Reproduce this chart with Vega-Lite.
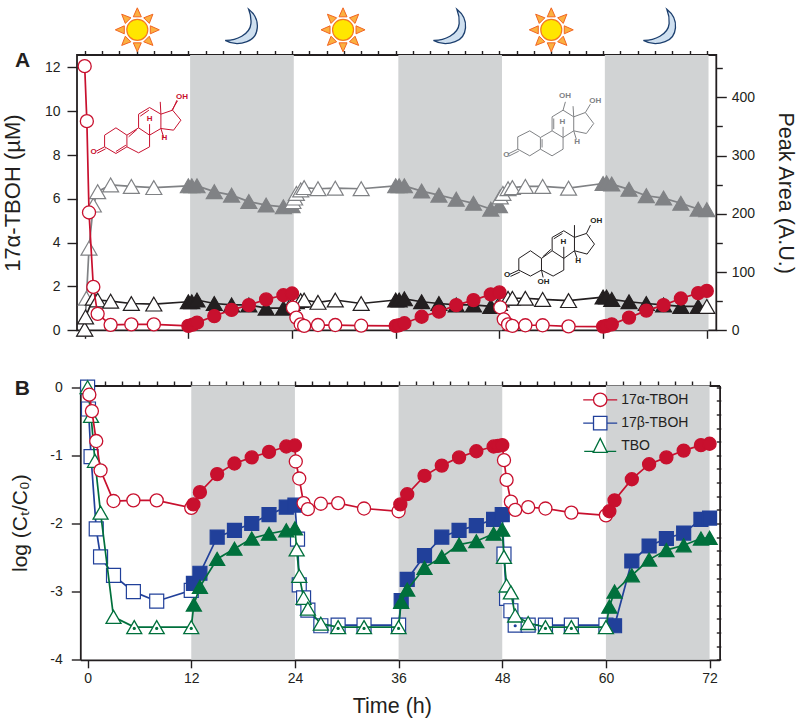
{
"$schema":"https://vega.github.io/schema/vega-lite/v6.json",
"padding":{"left":1,"top":4,"right":0,"bottom":0},
"bounds":"full","spacing":37.5,
"resolve":{"scale":{"shape":"independent","stroke":"independent","color":"independent","fill":"independent"}},
"config":{"font":"Liberation Sans","view":{"stroke":"#231f20","strokeWidth":1.8},
 "axis":{"grid":false,"domain":false,"tickColor":"#231f20","tickWidth":1.4,"labelColor":"#231f20","labelFontSize":14,"titleColor":"#231f20","titleFontSize":20,"titleFontWeight":"normal"}},
"datasets":{
"darkA":[{"t":12.2,"t2":24.2},{"t":36.3,"t2":48.3},{"t":60.2,"t2":72.2}],
"darkB":[{"t":12,"t2":24},{"t":36,"t2":48},{"t":60,"t2":72}],
"suns":[{"t":6.09,"value":13.72},{"t":29.9,"value":13.72},{"t":54,"value":13.72}],
"moons":[{"t":18.2,"value":13.82},{"t":42.3,"value":13.82},{"t":66.6,"value":13.82}],
"molecules":[{"mol":"alpha","t":6.7,"value":9.29},{"mol":"gray","t":53.9,"value":9.29},{"mol":"black","t":54.1,"value":3.51}],
"molLabels":[
{"mol":"alpha","text":"OH","t":11.26,"value":10.63},{"mol":"alpha","text":"H","t":7.51,"value":9.64},{"mol":"alpha","text":"H","t":9.21,"value":8.76},{"mol":"alpha","text":"O","t":1.03,"value":8.15},
{"mol":"gray","text":"OH","t":55.6,"value":10.69},{"mol":"gray","text":"OH","t":59.1,"value":10.48},{"mol":"gray","text":"H","t":55.3,"value":9.49},{"mol":"gray","text":"H","t":57.0,"value":8.61},{"mol":"gray","text":"O","t":48.8,"value":8.0},
{"mol":"black","text":"OH","t":59.2,"value":4.99},{"mol":"black","text":"OH","t":53.1,"value":2.22},{"mol":"black","text":"H","t":55.4,"value":4.02},{"mol":"black","text":"H","t":57.1,"value":3.15},{"mol":"black","text":"O","t":48.9,"value":2.52}],
"panelA":[{"label":"A","t":-7.2,"value":12.3}],
"panelB":[{"label":"B","t":-7.56,"value":-0.03}],
"aRed":[
{"t":0,"value":12.06,"phase":"light"},{"t":0.25,"value":9.55,"phase":"light"},{"t":0.5,"value":5.38,"phase":"light"},{"t":1,"value":1.98,"phase":"light"},{"t":1.5,"value":0.75,"phase":"light"},{"t":3,"value":0.25,"phase":"light"},{"t":5.4,"value":0.27,"phase":"light"},{"t":8,"value":0.27,"phase":"light"},
{"t":12,"value":0.2,"phase":"dark"},{"t":12.5,"value":0.26,"phase":"dark"},{"t":13,"value":0.35,"phase":"dark"},{"t":15,"value":0.65,"phase":"dark"},{"t":17,"value":0.93,"phase":"dark"},{"t":19,"value":1.15,"phase":"dark"},{"t":21,"value":1.41,"phase":"dark"},{"t":23,"value":1.6,"phase":"dark"},{"t":24,"value":1.68,"phase":"dark"},
{"t":24.1,"value":1.03,"phase":"light"},{"t":24.5,"value":0.58,"phase":"light"},{"t":25,"value":0.27,"phase":"light"},{"t":25.4,"value":0.2,"phase":"light"},{"t":27,"value":0.24,"phase":"light"},{"t":29,"value":0.24,"phase":"light"},{"t":32,"value":0.21,"phase":"light"},
{"t":36,"value":0.2,"phase":"dark"},{"t":36.4,"value":0.23,"phase":"dark"},{"t":37,"value":0.32,"phase":"dark"},{"t":39,"value":0.62,"phase":"dark"},{"t":41,"value":0.85,"phase":"dark"},{"t":43,"value":1.15,"phase":"dark"},{"t":45,"value":1.38,"phase":"dark"},{"t":47,"value":1.64,"phase":"dark"},{"t":48,"value":1.73,"phase":"dark"},
{"t":48.1,"value":1.05,"phase":"light"},{"t":48.5,"value":0.5,"phase":"light"},{"t":49,"value":0.27,"phase":"light"},{"t":49.5,"value":0.2,"phase":"light"},{"t":51,"value":0.23,"phase":"light"},{"t":53,"value":0.23,"phase":"light"},{"t":56,"value":0.18,"phase":"light"},
{"t":60,"value":0.17,"phase":"dark"},{"t":60.4,"value":0.2,"phase":"dark"},{"t":61,"value":0.27,"phase":"dark"},{"t":63,"value":0.58,"phase":"dark"},{"t":65,"value":0.9,"phase":"dark"},{"t":67,"value":1.15,"phase":"dark"},{"t":69,"value":1.45,"phase":"dark"},{"t":71,"value":1.7,"phase":"dark"},{"t":72,"value":1.8,"phase":"dark"}],
"aGray":[
{"t":0,"value":2,"phase":"light"},{"t":0.2,"value":55,"phase":"light"},{"t":0.5,"value":141,"phase":"light"},{"t":1,"value":215,"phase":"light"},{"t":1.5,"value":238,"phase":"light"},{"t":3,"value":249.5,"phase":"light"},{"t":5.4,"value":247,"phase":"light"},{"t":8,"value":245,"phase":"light"},
{"t":12,"value":248,"phase":"dark"},{"t":12.4,"value":248,"phase":"dark"},{"t":13,"value":248,"phase":"dark"},{"t":15,"value":238,"phase":"dark"},{"t":17,"value":232,"phase":"dark"},{"t":19,"value":221,"phase":"dark"},{"t":21,"value":215,"phase":"dark"},{"t":23,"value":212,"phase":"dark"},{"t":24,"value":214,"phase":"dark"},
{"t":24.1,"value":221,"phase":"light"},{"t":24.3,"value":227,"phase":"light"},{"t":24.5,"value":235,"phase":"light"},{"t":25,"value":241,"phase":"light"},{"t":25.4,"value":245,"phase":"light"},{"t":27,"value":243,"phase":"light"},{"t":29,"value":244,"phase":"light"},{"t":32,"value":243,"phase":"light"},
{"t":36,"value":248,"phase":"dark"},{"t":36.4,"value":248,"phase":"dark"},{"t":37,"value":248,"phase":"dark"},{"t":39,"value":239,"phase":"dark"},{"t":41,"value":232,"phase":"dark"},{"t":43,"value":225,"phase":"dark"},{"t":45,"value":218,"phase":"dark"},{"t":47,"value":208,"phase":"dark"},{"t":48,"value":214,"phase":"dark"},
{"t":48.1,"value":229,"phase":"light"},{"t":48.4,"value":235,"phase":"light"},{"t":49,"value":243,"phase":"light"},{"t":49.5,"value":245,"phase":"light"},{"t":51,"value":247,"phase":"light"},{"t":53,"value":247,"phase":"light"},{"t":56,"value":244,"phase":"light"},
{"t":60,"value":252,"phase":"dark"},{"t":60.4,"value":253,"phase":"dark"},{"t":61,"value":251,"phase":"dark"},{"t":63,"value":242,"phase":"dark"},{"t":65,"value":231,"phase":"dark"},{"t":67,"value":227,"phase":"dark"},{"t":69,"value":218,"phase":"dark"},{"t":71,"value":208,"phase":"dark"},{"t":72,"value":207,"phase":"dark"}],
"aBlack":[
{"t":0,"value":2,"phase":"light"},{"t":0.1,"value":23,"phase":"light"},{"t":1,"value":55,"phase":"light"},{"t":1.5,"value":52,"phase":"light"},{"t":3,"value":50,"phase":"light"},{"t":5.4,"value":46,"phase":"light"},{"t":8,"value":45,"phase":"light"},
{"t":12,"value":49,"phase":"dark"},{"t":12.4,"value":49,"phase":"dark"},{"t":13,"value":52,"phase":"dark"},{"t":15,"value":46,"phase":"dark"},{"t":17,"value":43.5,"phase":"dark"},{"t":19,"value":43.5,"phase":"dark"},{"t":21,"value":38,"phase":"dark"},{"t":23,"value":38,"phase":"dark"},{"t":24,"value":46,"phase":"dark"},
{"t":24.1,"value":51,"phase":"light"},{"t":24.3,"value":51,"phase":"light"},{"t":24.5,"value":49,"phase":"light"},{"t":25,"value":51,"phase":"light"},{"t":25.4,"value":52,"phase":"light"},{"t":27,"value":48,"phase":"light"},{"t":29,"value":52,"phase":"light"},{"t":32,"value":46,"phase":"light"},
{"t":36,"value":52,"phase":"dark"},{"t":36.4,"value":52,"phase":"dark"},{"t":37,"value":54,"phase":"dark"},{"t":39,"value":49,"phase":"dark"},{"t":41,"value":46,"phase":"dark"},{"t":43,"value":43.5,"phase":"dark"},{"t":45,"value":43.5,"phase":"dark"},{"t":47,"value":41,"phase":"dark"},{"t":48,"value":46,"phase":"dark"},
{"t":48.2,"value":52,"phase":"light"},{"t":48.5,"value":55,"phase":"light"},{"t":49,"value":55,"phase":"light"},{"t":49.5,"value":55,"phase":"light"},{"t":51,"value":55,"phase":"light"},{"t":53,"value":53,"phase":"light"},{"t":56,"value":51,"phase":"light"},
{"t":60,"value":57,"phase":"dark"},{"t":60.4,"value":57,"phase":"dark"},{"t":61,"value":53,"phase":"dark"},{"t":63,"value":49,"phase":"dark"},{"t":65,"value":46,"phase":"dark"},{"t":67,"value":43.5,"phase":"dark"},{"t":69,"value":41,"phase":"dark"},{"t":71,"value":41,"phase":"dark"},{"t":72,"value":41,"phase":"light"}],
"bRed":[
{"t":0.2,"value":-0.11,"phase":"light"},{"t":0.5,"value":-0.35,"phase":"light"},{"t":1,"value":-0.79,"phase":"light"},{"t":1.5,"value":-1.22,"phase":"light"},{"t":3,"value":-1.67,"phase":"light"},{"t":5.3,"value":-1.66,"phase":"light"},{"t":8,"value":-1.66,"phase":"light"},{"t":12,"value":-1.77,"phase":"light"},
{"t":12.25,"value":-1.72,"phase":"dark"},{"t":13,"value":-1.54,"phase":"dark"},{"t":15,"value":-1.275,"phase":"dark"},{"t":17,"value":-1.12,"phase":"dark"},{"t":19,"value":-1.03,"phase":"dark"},{"t":21,"value":-0.95,"phase":"dark"},{"t":23,"value":-0.87,"phase":"dark"},{"t":24,"value":-0.855,"phase":"dark"},
{"t":24.1,"value":-1.09,"phase":"light"},{"t":24.5,"value":-1.34,"phase":"light"},{"t":25,"value":-1.7,"phase":"light"},{"t":25.5,"value":-1.79,"phase":"light"},{"t":27,"value":-1.71,"phase":"light"},{"t":29,"value":-1.7,"phase":"light"},{"t":32,"value":-1.78,"phase":"light"},{"t":36,"value":-1.82,"phase":"light"},
{"t":36.2,"value":-1.72,"phase":"dark"},{"t":37,"value":-1.57,"phase":"dark"},{"t":39,"value":-1.3,"phase":"dark"},{"t":41,"value":-1.15,"phase":"dark"},{"t":43,"value":-1.03,"phase":"dark"},{"t":45,"value":-0.94,"phase":"dark"},{"t":47,"value":-0.87,"phase":"dark"},{"t":47.5,"value":-0.86,"phase":"dark"},{"t":48,"value":-0.85,"phase":"dark"},
{"t":48.2,"value":-1.07,"phase":"light"},{"t":48.5,"value":-1.36,"phase":"light"},{"t":49,"value":-1.68,"phase":"light"},{"t":49.5,"value":-1.8,"phase":"light"},{"t":51,"value":-1.76,"phase":"light"},{"t":53,"value":-1.78,"phase":"light"},{"t":56,"value":-1.84,"phase":"light"},{"t":60,"value":-1.88,"phase":"light"},
{"t":60.4,"value":-1.82,"phase":"dark"},{"t":61,"value":-1.66,"phase":"dark"},{"t":63,"value":-1.35,"phase":"dark"},{"t":65,"value":-1.13,"phase":"dark"},{"t":67,"value":-1.03,"phase":"dark"},{"t":69,"value":-0.93,"phase":"dark"},{"t":71,"value":-0.85,"phase":"dark"},{"t":72,"value":-0.83,"phase":"dark"}],
"bBlue":[
{"t":0,"value":0,"phase":"light"},{"t":0.1,"value":-0.32,"phase":"light"},{"t":0.4,"value":-1.02,"phase":"light"},{"t":1,"value":-2.08,"phase":"light"},{"t":1.5,"value":-2.49,"phase":"light"},{"t":3,"value":-2.76,"phase":"light"},{"t":5.3,"value":-3.0,"phase":"light"},{"t":8,"value":-3.14,"phase":"light"},{"t":12,"value":-2.98,"phase":"light"},
{"t":12.25,"value":-2.88,"phase":"dark"},{"t":13,"value":-2.73,"phase":"dark"},{"t":15,"value":-2.2,"phase":"dark"},{"t":17,"value":-2.1,"phase":"dark"},{"t":19,"value":-2.0,"phase":"dark"},{"t":21,"value":-1.87,"phase":"dark"},{"t":23,"value":-1.76,"phase":"dark"},{"t":24,"value":-1.73,"phase":"dark"},
{"t":24.3,"value":-2.23,"phase":"light"},{"t":24.5,"value":-2.9,"phase":"light"},{"t":25,"value":-3.09,"phase":"light"},{"t":25.5,"value":-3.27,"phase":"light"},{"t":27,"value":-3.5,"phase":"light"},{"t":29,"value":-3.49,"phase":"light"},{"t":32,"value":-3.49,"phase":"light"},{"t":36,"value":-3.49,"phase":"light"},
{"t":36.3,"value":-3.13,"phase":"dark"},{"t":37,"value":-2.82,"phase":"dark"},{"t":39,"value":-2.47,"phase":"dark"},{"t":41,"value":-2.2,"phase":"dark"},{"t":43,"value":-2.1,"phase":"dark"},{"t":45,"value":-2.03,"phase":"dark"},{"t":47,"value":-1.94,"phase":"dark"},{"t":48,"value":-1.87,"phase":"dark"},
{"t":48.2,"value":-2.45,"phase":"light"},{"t":48.5,"value":-3.1,"phase":"light"},{"t":49,"value":-3.28,"phase":"light"},{"t":49.5,"value":-3.49,"phase":"light"},{"t":51,"value":-3.49,"phase":"light"},{"t":53,"value":-3.49,"phase":"light"},{"t":56,"value":-3.49,"phase":"light"},{"t":60,"value":-3.49,"phase":"light"},
{"t":61,"value":-3.5,"phase":"dark"},{"t":63,"value":-2.55,"phase":"dark"},{"t":65,"value":-2.33,"phase":"dark"},{"t":67,"value":-2.22,"phase":"dark"},{"t":69,"value":-2.14,"phase":"dark"},{"t":71,"value":-1.94,"phase":"dark"},{"t":72,"value":-1.92,"phase":"dark"}],
"bGreen":[
{"t":0,"value":0,"phase":"light"},{"t":0.4,"value":-0.42,"phase":"light"},{"t":0.85,"value":-1.08,"phase":"light"},{"t":1.5,"value":-1.84,"phase":"light"},{"t":3,"value":-3.37,"phase":"light"},{"t":5.4,"value":-3.52,"phase":"light"},{"t":8,"value":-3.52,"phase":"light"},{"t":12,"value":-3.52,"phase":"light"},
{"t":12.3,"value":-3.19,"phase":"dark"},{"t":13,"value":-2.93,"phase":"dark"},{"t":15,"value":-2.52,"phase":"dark"},{"t":17,"value":-2.37,"phase":"dark"},{"t":19,"value":-2.22,"phase":"dark"},{"t":21,"value":-2.15,"phase":"dark"},{"t":23,"value":-2.1,"phase":"dark"},{"t":24,"value":-2.07,"phase":"dark"},
{"t":24.2,"value":-2.38,"phase":"light"},{"t":24.5,"value":-2.77,"phase":"light"},{"t":25,"value":-3.09,"phase":"light"},{"t":25.5,"value":-3.25,"phase":"light"},{"t":27,"value":-3.47,"phase":"light"},{"t":29,"value":-3.52,"phase":"light"},{"t":32,"value":-3.52,"phase":"light"},{"t":36,"value":-3.52,"phase":"light"},
{"t":36.3,"value":-3.15,"phase":"dark"},{"t":37,"value":-2.97,"phase":"dark"},{"t":39,"value":-2.65,"phase":"dark"},{"t":41,"value":-2.49,"phase":"dark"},{"t":43,"value":-2.31,"phase":"dark"},{"t":45,"value":-2.26,"phase":"dark"},{"t":47,"value":-2.15,"phase":"dark"},{"t":48,"value":-2.09,"phase":"dark"},
{"t":48.2,"value":-2.49,"phase":"light"},{"t":48.5,"value":-2.91,"phase":"light"},{"t":49,"value":-3.01,"phase":"light"},{"t":49.5,"value":-3.35,"phase":"light"},{"t":51,"value":-3.46,"phase":"light"},{"t":53,"value":-3.52,"phase":"light"},{"t":56,"value":-3.52,"phase":"light"},{"t":60,"value":-3.52,"phase":"light"},
{"t":60.4,"value":-3.22,"phase":"dark"},{"t":61,"value":-3.0,"phase":"dark"},{"t":63,"value":-2.76,"phase":"dark"},{"t":65,"value":-2.53,"phase":"dark"},{"t":67,"value":-2.39,"phase":"dark"},{"t":69,"value":-2.32,"phase":"dark"},{"t":71,"value":-2.22,"phase":"dark"},{"t":72,"value":-2.21,"phase":"dark"}],
"bDots":[{"series":"green","t":5.4,"value":-3.54},{"series":"green","t":8,"value":-3.54},{"series":"green","t":12,"value":-3.54},{"series":"green","t":29,"value":-3.54},{"series":"green","t":32,"value":-3.54},{"series":"green","t":36,"value":-3.54},{"series":"green","t":53,"value":-3.54},{"series":"green","t":56,"value":-3.54},{"series":"blue","t":49.5,"value":-3.5}],
"legend":[{"label":"17α-TBOH","t":59.34,"value":-0.185},{"label":"17β-TBOH","t":59.34,"value":-0.527},{"label":"TBO","t":59.34,"value":-0.868}]
},
"vconcat":[
{"width":639.3,"height":275.3,
 "resolve":{"scale":{"y":"independent"},"axis":{"x":"independent","y":"independent"}},
 "layer":[
 {"encoding":{
   "x":{"field":"t","type":"quantitative","scale":{"domain":[-0.89,73.1],"nice":false,"zero":false},"title":null,"axis":{"values":[0,12,24,36,48,60,72],"labels":false,"tickSize":8}},
   "y":{"field":"value","type":"quantitative","scale":{"domain":[0,12.57],"nice":false},"title":"17α-TBOH (µM)","axis":{"values":[0,2,4,6,8,10,12],"tickSize":10,"labelPadding":7,"titlePadding":19.5,"titleFontSize":22}}},
  "layer":[
  {"data":{"name":"darkA"},"mark":{"type":"rect","fill":"#d1d3d4"},"encoding":{"x2":{"field":"t2"},"y":null}},
  {"data":{"name":"molecules"},"mark":{"type":"point","size":0.444,"strokeWidth":1,"opacity":1},"encoding":{
    "shape":{"field":"mol","type":"nominal","legend":null,"scale":{"domain":["alpha","gray","black"],"range":[
    "M-114,25L-80,3L-47,25L-47,60L-80,80L-114,60ZM-47,25L-12,3L21,25L21,60L-12,78L-47,60M-12,3L-12,-38L21,-58L55,-38L55,5L21,25M55,-38L90,-50L115,-20L93,10L55,5M-114,60L-139,73M-111,66L-136,79M-42,30L-17,8M-7,-32L19,-50M-80,74L-50,55M90,-50L103,-80M88,-50L105,-78M55,-38L53,-75M21,25L21,-8M55,5L63,30",
    "M-98,30L-62,12L-30,32L-30,67L-62,87L-98,67ZM-30,32L5,12L38,32L38,67L5,87L-30,67M5,12L5,-30L38,-50L70,-30L70,12L38,32M70,-30L105,-43L130,-10L108,20L70,12M-98,67L-128,82M-95,73L-125,88M-25,62L-25,37M10,7L10,-25M38,-50L45,-75M105,-43L120,-68M70,-30L68,-62M38,32L38,0M70,12L78,38",
    "M-100,15L-65,-8L-32,15L-32,50L-65,68L-100,50ZM-32,15L0,-8L35,15L35,50L3,68L-32,50M0,-8L0,-48L35,-68L67,-48L67,-8L35,15M67,-48L103,-60L127,-28L105,2L67,-8M-100,50L-128,63M-97,56L-125,69M-28,10L-4,-12M5,-44L31,-60M103,-60L115,-85M67,-48L67,-85M-32,50L-27,72M35,15L35,-20M67,-8L75,15"]}},
    "stroke":{"field":"mol","type":"nominal","legend":null,"scale":{"domain":["alpha","gray","black"],"range":["#c8102e","#808285","#231f20"]}}}},
  {"data":{"name":"molLabels"},"mark":{"type":"text","fontSize":8,"fontWeight":"bold"},"encoding":{"text":{"field":"text"},
    "color":{"field":"mol","type":"nominal","legend":null,"scale":{"domain":["alpha","gray","black"],"range":["#c8102e","#808285","#231f20"]}}}},
  {"data":{"name":"panelA"},"mark":{"type":"text","fontSize":21,"fontWeight":"bold","color":"#231f20"},"encoding":{"text":{"field":"label"}}},
  {"data":{"name":"suns"},"mark":{"type":"point","size":4,"fill":"#fbb040","stroke":"#f26522","strokeWidth":1,"opacity":1,"shape":"M-4,-13L0,-22L4,-13ZM6.4,-12L15.6,-15.6L12,-6.4ZM13,-4L22,0L13,4ZM12,6.4L15.6,15.6L6.4,12ZM4,13L0,22L-4,13ZM-6.4,12L-15.6,15.6L-12,6.4ZM-13,4L-22,0L-13,-4ZM-12,-6.4L-15.6,-15.6L-6.4,-12Z"}},
  {"data":{"name":"suns"},"mark":{"type":"point","size":441,"shape":"circle","fill":"#ffe600","stroke":"#f47920","strokeWidth":1.2,"opacity":1}},
  {"data":{"name":"moons"},"mark":{"type":"point","size":4,"fill":"#cfe0f0","stroke":"#1c3f6e","strokeWidth":1.3,"opacity":1,"shape":"M6.7,-18.3C20,-8 17,10 5,14C-3,17 -11,16 -16.7,12.7C-6,13 8,7 9,-4C9.5,-10 8,-15 6.7,-18.3Z"}}
  ]},
 {"resolve":{"axis":{"y":"independent"}},
  "encoding":{"x":{"field":"t","type":"quantitative","scale":{"domain":[-0.89,73.1],"nice":false,"zero":false},"title":null,"axis":{"values":[0,2,4,6,8,10,12,14,16,18,20,22,24,26,28,30,32,34,36,38,40,42,44,46,48,50,52,54,56,58,60,62,64,66,68,70,72],"labels":false,"tickSize":4.5}}},
  "layer":[
  {"data":{"name":"aGray"},"encoding":{"y":{"field":"value","type":"quantitative","scale":{"domain":[0,472.6],"nice":false},"title":"Peak Area (A.U.)","axis":{"orient":"right","values":[0,100,200,300,400],"tickSize":10,"labelPadding":5,"titleAngle":90,"titlePadding":19,"titleFontSize":21.5}}},
   "layer":[{"mark":{"type":"line","color":"#808285","strokeWidth":1.7}},
   {"mark":{"type":"point","shape":"triangle-up","size":256,"stroke":"#808285","strokeWidth":1.2,"opacity":1},"encoding":{"fill":{"condition":{"test":"datum.phase==='dark'","value":"#808285"},"value":"white"}}}]},
  {"data":{"name":"aBlack"},"encoding":{"y":{"field":"value","type":"quantitative","scale":{"domain":[0,472.6],"nice":false},"title":null,"axis":{"orient":"right","values":[50,150,250,350,450],"labels":false,"tickSize":6}}},
   "layer":[{"mark":{"type":"line","color":"#231f20","strokeWidth":1.7}},
   {"mark":{"type":"point","shape":"triangle-up","size":256,"stroke":"#231f20","strokeWidth":1.2,"opacity":1},"encoding":{"fill":{"condition":{"test":"datum.phase==='dark'","value":"#231f20"},"value":"white"}}}]}
  ]},
 {"data":{"name":"aRed"},
  "encoding":{"x":{"field":"t","type":"quantitative","scale":{"domain":[-0.89,73.1],"nice":false,"zero":false},"axis":null},
   "y":{"field":"value","type":"quantitative","scale":{"domain":[0,12.57],"nice":false},"axis":null}},
  "layer":[{"mark":{"type":"line","color":"#c8102e","strokeWidth":1.7}},
  {"mark":{"type":"point","shape":"circle","size":170,"stroke":"#c8102e","strokeWidth":1.3,"opacity":1},"encoding":{"fill":{"condition":{"test":"datum.phase==='dark'","value":"#c8102e"},"value":"white"}}}]}
 ]},
{"width":642.6,"height":274.3,"view":{"stroke":null},
 "resolve":{"axis":{"x":"independent","y":"independent"}},
 "layer":[
 {"encoding":{
   "x":{"field":"t","type":"quantitative","scale":{"domain":[-0.845,73.16],"range":[3.3,642.6],"nice":false,"zero":false},"title":"Time (h)","axis":{"values":[0,12,24,36,48,60,72],"tickSize":8,"labelPadding":4,"titlePadding":10,"titleFontSize":21.5,"titleX":314.8,"domain":true,"domainColor":"#231f20","domainWidth":1.8}},
   "y":{"field":"value","type":"quantitative","scale":{"domain":[-4,0.025],"nice":false,"zero":false},"title":"log (Cₜ/C₀)","axis":{"values":[-4,-3,-2,-1,0],"offset":-3.3,"tickSize":9,"labelPadding":9,"titlePadding":19.1,"titleFontSize":21,"labelExpr":"replace(datum.label,'−','-')","domain":true,"domainColor":"#231f20","domainWidth":1.8}}},
  "layer":[
  {"data":{"name":"darkB"},"mark":{"type":"rect","fill":"#d1d3d4"},"encoding":{"x2":{"field":"t2"},"y":null}},
  {"data":{"name":"panelB"},"mark":{"type":"text","fontSize":21,"fontWeight":"bold","color":"#231f20"},"encoding":{"text":{"field":"label"}}}
  ]},
 {"encoding":{
   "x":{"field":"t","type":"quantitative","scale":{"domain":[-0.845,73.16],"range":[3.3,642.6],"nice":false,"zero":false},"title":null,"axis":{"values":[0,2,4,6,8,10,12,14,16,18,20,22,24,26,28,30,32,34,36,38,40,42,44,46,48,50,52,54,56,58,60,62,64,66,68,70,72],"labels":false,"tickSize":4.5}},
   "y":{"field":"value","type":"quantitative","scale":{"domain":[-4,0.025],"nice":false,"zero":false},"title":null,"axis":{"values":[-4,-3.8,-3.6,-3.4,-3.2,-3,-2.8,-2.6,-2.4,-2.2,-2,-1.8,-1.6,-1.4,-1.2,-1,-0.8,-0.6,-0.4,-0.2,0],"offset":-3.3,"labels":false,"tickSize":4.5}}},
  "layer":[
  {"data":{"name":"bBlue"},"layer":[{"mark":{"type":"line","color":"#21409a","strokeWidth":1.7}},
   {"mark":{"type":"point","shape":"square","size":196,"stroke":"#21409a","strokeWidth":1.2,"opacity":1},"encoding":{"fill":{"condition":{"test":"datum.phase==='dark'","value":"#21409a"},"value":"white"}}}]},
  {"data":{"name":"bGreen"},"layer":[{"mark":{"type":"line","color":"#00703c","strokeWidth":1.7}},
   {"mark":{"type":"point","shape":"triangle-up","size":225,"stroke":"#00703c","strokeWidth":1.3,"opacity":1},"encoding":{"fill":{"condition":{"test":"datum.phase==='dark'","value":"#00703c"},"value":"white"}}}]},
  {"data":{"name":"bDots"},"mark":{"type":"circle","size":10,"opacity":1},"encoding":{"color":{"field":"series","type":"nominal","legend":null,"scale":{"domain":["green","blue"],"range":["#00703c","#21409a"]}}}}
  ]},
 {"encoding":{
   "x":{"field":"t","type":"quantitative","scale":{"domain":[-0.845,73.16],"range":[3.3,642.6],"nice":false,"zero":false},"title":null,"axis":{"orient":"top","values":[],"labels":false,"ticks":false,"domain":true,"domainColor":"#231f20","domainWidth":1.8}},
   "y":{"field":"value","type":"quantitative","scale":{"domain":[-4,0.025],"nice":false,"zero":false},"title":null,"axis":{"orient":"right","values":[],"labels":false,"ticks":false,"domain":true,"domainColor":"#231f20","domainWidth":1.8}}},
  "layer":[
  {"data":{"name":"bRed"},"layer":[{"mark":{"type":"line","color":"#c8102e","strokeWidth":1.7}},
   {"mark":{"type":"point","shape":"circle","size":170,"stroke":"#c8102e","strokeWidth":1.3,"opacity":1},"encoding":{"fill":{"condition":{"test":"datum.phase==='dark'","value":"#c8102e"},"value":"white"}}}]},
  {"data":{"name":"legend"},"mark":{"type":"point","size":4,"fill":"white","strokeWidth":1.3,"opacity":1},"encoding":{
    "shape":{"field":"label","type":"nominal","legend":null,"scale":{"domain":["17α-TBOH","17β-TBOH","TBO"],"range":[
     "M-17,0L-6.7,0M6.7,0L17,0M-6.7,0A6.7,6.7 0 1 0 6.7,0A6.7,6.7 0 1 0 -6.7,0Z",
     "M-17,0L-6.7,0M6.7,0L17,0M-6.7,-6.7L6.7,-6.7L6.7,6.7L-6.7,6.7Z",
     "M-16,5L-7,5M7,5L16,5M0,-8L7,6L-7,6Z"]}},
    "stroke":{"field":"label","type":"nominal","legend":null,"scale":{"domain":["17α-TBOH","17β-TBOH","TBO"],"range":["#c8102e","#21409a","#00703c"]}}}},
  {"data":{"name":"legend"},"mark":{"type":"text","align":"left","dx":21,"fontSize":14,"color":"#231f20"},"encoding":{"text":{"field":"label"}}}
  ]}
 ]}
]}
